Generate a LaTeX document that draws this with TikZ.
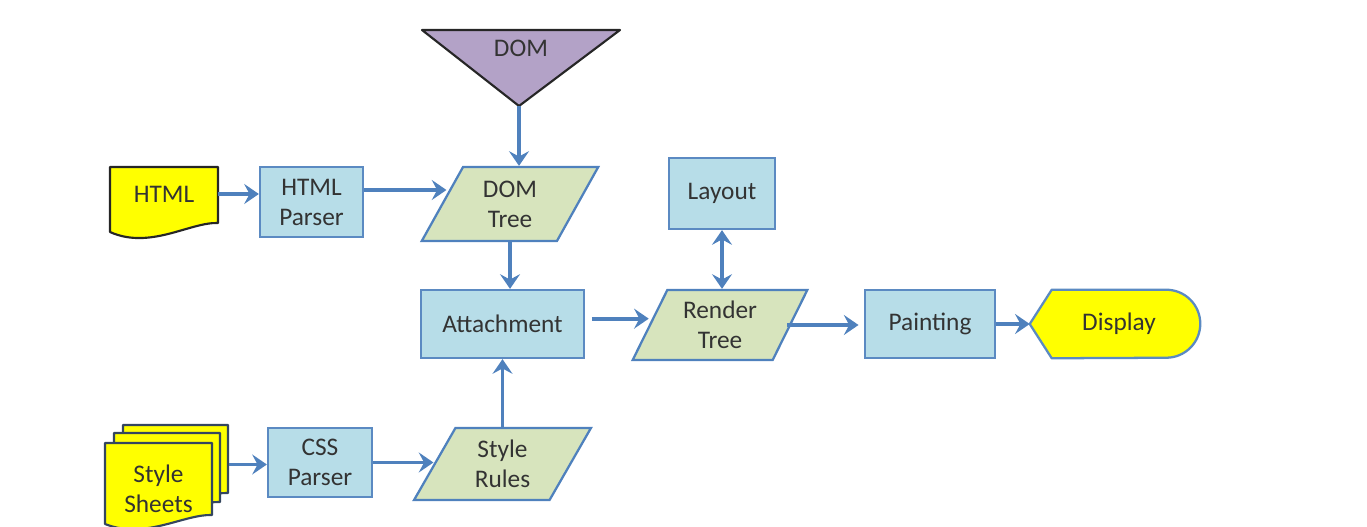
\documentclass[tikz,border=0pt]{standalone}
\usepackage{fontspec}
\setmainfont{Carlito}
\usetikzlibrary{shapes.geometric,arrows.meta,calc}
\definecolor{boxfill}{HTML}{B7DDE8}
\definecolor{boxline}{HTML}{5B8AC2}
\definecolor{datafill}{HTML}{D7E4BD}
\definecolor{dataline}{HTML}{4F81BD}
\definecolor{flow}{HTML}{4F81BD}
\definecolor{docfill}{HTML}{FFFF00}
\definecolor{domfill}{HTML}{B3A2C7}
\definecolor{sheetline}{HTML}{34465F}
\definecolor{ink}{HTML}{333333}
\tikzset{
  lbl/.style={font=\fontsize{19}{22.5}\selectfont, text=ink, align=center, inner sep=0pt},
  procbox/.style={lbl, rectangle, draw=boxline, fill=boxfill, line width=1.7pt},
  databox/.style={lbl, trapezium, trapezium left angle=63, trapezium right angle=117,
    trapezium stretches=true, draw=dataline, fill=datafill, line width=1.7pt},
  ghost/.style={lbl, rectangle},
  arr/.style={draw=flow, line width=2.8pt, -{Stealth[length=11pt,width=15pt,inset=4pt]}},
  biarr/.style={draw=flow, line width=2.8pt, {Stealth[length=11pt,width=15pt,inset=4pt]}-{Stealth[length=11pt,width=15pt,inset=4pt]}},
  docline/.style={draw=black!85, line width=1.6pt, fill=docfill, line join=round},
  sheet/.style={draw=sheetline, line width=1.6pt, fill=docfill, line join=round},
}
\begin{document}
\begin{tikzpicture}[x=0.75pt,y=-0.75pt]
\useasboundingbox (0,0) rectangle (1367,527);

% --- source: HTML document
\draw[docline] (110,167) -- (218,167) -- (218,223)
  .. controls (190,222) and (150,250) .. (110,232) -- cycle;
\node[ghost, minimum width=81pt, minimum height=43.5pt] (html) at (164,194) {HTML};

% --- source: stack of style sheets (back to front)
\draw[sheet] (123,425) -- (228,425) -- (228,493)
  .. controls (200,492) and (163,518) .. (123,502) -- cycle;
\draw[sheet] (114,433) -- (220,433) -- (220,502)
  .. controls (192,501) and (154,527) .. (114,511) -- cycle;
\draw[sheet] (105,443) -- (212,443) -- (212,515)
  .. controls (184,514) and (145,540) .. (105,524) -- cycle;
\node[ghost, minimum width=80pt, minimum height=60pt] (sheets) at (158.5,489) {Style\\Sheets};

% --- DOM triangle
\coordinate (domtip) at (519,106);
\draw[draw=black!85, line width=1.6pt, fill=domfill, line join=round]
  (422,30) -- (620,30) -- (domtip) -- cycle;
\node[lbl] (dom) at (521,48) {DOM};

% --- processing boxes
\node[procbox, minimum width=77.25pt, minimum height=52.5pt] (hparser) at (311.5,202) {HTML\\Parser};
\node[procbox, minimum width=78pt, minimum height=51.75pt] (css) at (320,462.5) {CSS\\Parser};
\node[procbox, minimum width=122.25pt, minimum height=51pt] (attach) at (502.5,324) {Attachment};
\node[procbox, minimum width=79.5pt, minimum height=53.25pt] (layout) at (722,193.5) {Layout};
\node[procbox, minimum width=97.5pt, minimum height=51pt] (paint) at (930,324) {Painting};

% --- data (parallelograms)
\node[databox, minimum width=132.75pt, minimum height=55.5pt] (domtree) at (510,204) {DOM\\Tree};
\node[databox, minimum width=132pt, minimum height=52.5pt] (render) at (720,325) {Render\\Tree};
\node[databox, minimum width=132.75pt, minimum height=54pt] (rules) at (502.5,464) {Style\\Rules};

% --- display terminal
\node[ghost, minimum width=127.5pt, minimum height=51pt] (display) at (1115,324) {};
\draw[draw=boxline, line width=1.7pt, fill=docfill, line join=round]
  (display.west) -- ($(display.north west)+(22,0)$) -- ($(display.north east)+(-34,0)$)
  arc[start angle=90, end angle=-90, radius=25.5pt]
  -- ($(display.south west)+(22,0)$) -- cycle;
\node[lbl] at ($(display.center)+(4,0)$) {Display};

% --- connectors
\draw[arr] (html.east) -- (hparser.west |- html.east);
\draw[arr] ([yshift=9pt]hparser.east) -- ([yshift=9pt,xshift=4pt]hparser.east -| domtree.west);
\draw[arr] (domtip) -- (domtip |- domtree.north);
\draw[arr] (domtree.south) -- (domtree.south |- attach.north);
\draw[arr] ([xshift=5pt,yshift=4pt]attach.east) -- ([yshift=4pt]attach.east -| render.west);
\draw[biarr] (layout.south) -- (layout.south |- render.north);
\draw[arr] ([xshift=-3pt]render.east) -- ([xshift=-4pt]render.east -| paint.west);
\draw[arr] (paint.east) -- (display.west);
\draw[arr] ([xshift=12.5pt,yshift=-1.5pt]sheets.east |- css.west) -- ([yshift=-1.5pt]css.west);
\draw[arr] (css.east) -- (css.east -| rules.west);
\draw[arr] (rules.north -| attach.south) -- (attach.south);
\end{tikzpicture}
\end{document}
